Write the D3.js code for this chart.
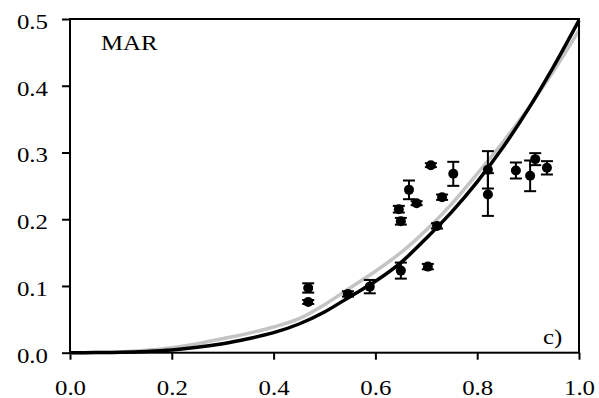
<!DOCTYPE html>
<html><head><meta charset="utf-8">
<script src="https://cdn.jsdelivr.net/npm/d3@7"></script>
<style>body{margin:0;background:#fff}</style>
</head><body>
<svg id="c" width="599" height="398"></svg>
<script>
const xTicks = [0.0, 0.2, 0.4, 0.6, 0.8, 1.0];
const yTicks = [0.0, 0.1, 0.2, 0.3, 0.4, 0.5];
const curveX = [0, 0.05, 0.1, 0.15, 0.2, 0.25, 0.3, 0.35, 0.4, 0.45, 0.5, 0.55, 0.6, 0.65, 0.7, 0.75, 0.8, 0.85, 0.9, 0.95, 1.0];
const blackY = [0, 0.0002, 0.0006, 0.0018, 0.004, 0.0080, 0.0135, 0.0210, 0.030, 0.0430, 0.0610, 0.084, 0.107, 0.135, 0.1715, 0.211, 0.256, 0.307, 0.3645, 0.4287, 0.498];
const greyY = [0, 0.0002, 0.0012, 0.0035, 0.0075, 0.0135, 0.0210, 0.0290, 0.0385, 0.0510, 0.0720, 0.097, 0.122, 0.1500, 0.184, 0.2230, 0.2680, 0.3150, 0.3660, 0.4220, 0.483];
const ptX = [0.468, 0.468, 0.546, 0.589, 0.646, 0.650, 0.650, 0.666, 0.681, 0.703, 0.709, 0.721, 0.731, 0.753, 0.821, 0.821, 0.876, 0.904, 0.914, 0.937];
const ptY = [0.097, 0.076, 0.088, 0.099, 0.215, 0.197, 0.123, 0.244, 0.224, 0.129, 0.281, 0.190, 0.233, 0.268, 0.274, 0.237, 0.273, 0.265, 0.290, 0.277];
const ptErr = [0.007, 0.003, 0.004, 0.010, 0.005, 0.005, 0.012, 0.014, 0.003, 0.004, 0.003, 0.004, 0.004, 0.018, 0.028, 0.032, 0.012, 0.023, 0.009, 0.010];
const panelLabel = "MAR";
const cornerLabel = "c)";

const svg = d3.select("#c");
const L = 70, T = 19, R = 579, B = 352.7;
const SX = 1.13;
const FONT = '"Liberation Serif"';
const x = d3.scaleLinear().domain([0, 1]).range([L, R]);
const y = d3.scaleLinear().domain([0, 0.5]).range([B, T]);

// axes
const xa = svg.append("g").attr("transform", `translate(0,${B})`)
  .call(d3.axisBottom(x).tickValues(xTicks).tickFormat(d3.format(".1f")).tickSize(7).tickPadding(6));
const ya = svg.append("g").attr("transform", `translate(${L},0)`)
  .call(d3.axisLeft(y).tickValues(yTicks).tickFormat(d3.format(".1f")).tickSize(8).tickPadding(8));
[xa, ya].forEach(g => {
  g.attr("font-family", null).attr("font-size", null);
  g.select(".domain").remove();
  g.selectAll(".tick line").attr("stroke", "#000").attr("stroke-width", 2);
  g.selectAll("text").style("font-family", FONT).style("font-size", "22px").attr("fill", "#000").attr("dy", null)
    .attr("transform", `scale(${SX},1)`);
});
ya.selectAll("text").attr("x", -22 / SX).attr("y", 9.5);
xa.selectAll("text").attr("y", 42);

// curves
const line = d3.line().x(d => x(d[0])).y(d => y(d[1])).curve(d3.curveMonotoneX);
svg.append("path").datum(curveX.map((v, i) => [v, greyY[i]]))
  .attr("d", line).attr("fill", "none").attr("stroke", "#c4c4c4").attr("stroke-width", 3.5);
svg.append("path").datum(curveX.map((v, i) => [v, blackY[i]]))
  .attr("d", line).attr("fill", "none").attr("stroke", "#000").attr("stroke-width", 3.5);

// error bars
const pts = ptX.map((v, i) => ({x: v, y: ptY[i], e: ptErr[i]}));
const eb = svg.append("g").attr("stroke", "#000").attr("stroke-width", 2);
pts.forEach(p => {
  eb.append("line").attr("x1", x(p.x)).attr("x2", x(p.x)).attr("y1", y(p.y - p.e)).attr("y2", y(p.y + p.e));
  [p.y - p.e, p.y + p.e].forEach(v => {
    eb.append("line").attr("x1", x(p.x) - 6).attr("x2", x(p.x) + 6).attr("y1", y(v)).attr("y2", y(v));
  });
});
svg.append("g").selectAll("circle").data(pts).join("circle")
  .attr("cx", d => x(d.x)).attr("cy", d => y(d.y)).attr("r", 5).attr("fill", "#000");

// frame
svg.append("rect").attr("x", L).attr("y", T).attr("width", R - L).attr("height", B - T)
  .attr("fill", "none").attr("stroke", "#000").attr("stroke-width", 2);

svg.append("text").attr("transform", `translate(101,50) scale(${SX},1)`)
  .style("font-family", FONT).style("font-size", "22px").text(panelLabel);
svg.append("text").attr("transform", `translate(543,344) scale(${SX},1)`)
  .style("font-family", FONT).style("font-size", "22px").text(cornerLabel);
</script>
</body></html>
